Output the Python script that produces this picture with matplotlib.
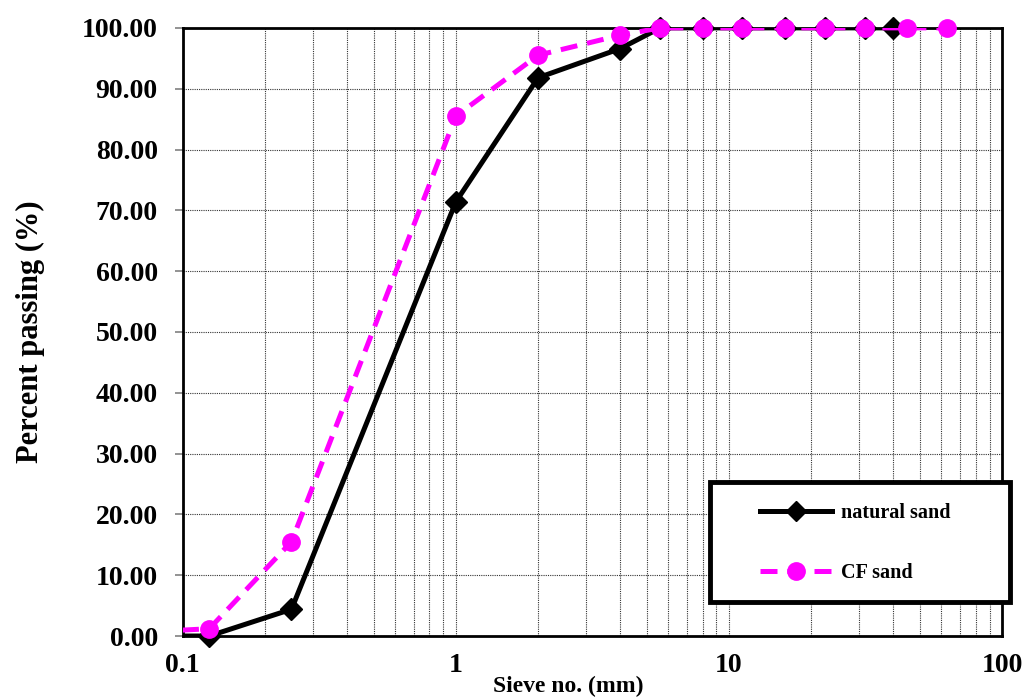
import numpy as np
import matplotlib.pyplot as plt
from matplotlib.patches import Rectangle
from matplotlib.lines import Line2D
from matplotlib.ticker import FormatStrFormatter, NullFormatter

# sieve sizes (mm) and percent passing
natural_sieve = [0.063, 0.125, 0.25, 1, 2, 4, 5.6, 8, 11.2, 16, 22.4, 31.5, 40]
natural_pass = [0.0, 0.0, 4.4, 71.4, 91.8, 96.6, 100, 100, 100, 100, 100, 100, 100]

cf_sieve = [0.063, 0.125, 0.25, 1, 2, 4, 5.6, 8, 11.2, 16, 22.4, 31.5, 45, 63]
cf_pass = [0.5, 1.2, 15.5, 85.5, 95.5, 98.8, 100, 100, 100, 100, 100, 100, 100, 100]

x_ticks = [0.1, 1, 10, 100]
x_tick_labels = ["0.1", "1", "10", "100"]

plt.rcParams["font.family"] = ["Liberation Serif", "DejaVu Serif"]
plt.rcParams["font.weight"] = "bold"

BLACK = "black"
PINK = "#FF00FF"
DASH = (0, (3.4, 2.0))

fig = plt.figure(figsize=(10.27, 6.97), dpi=100)
ax = fig.add_axes([0.178, 0.0875, 0.7977, 0.8725])

# lines clipped to the axes, markers allowed to sit on the top frame
ax.plot(natural_sieve, natural_pass, color=BLACK, lw=3.6, zorder=3)
ax.plot(natural_sieve, natural_pass, ls="none", color=BLACK, marker="D", ms=11,
        markevery=list(range(1, len(natural_sieve))), zorder=3, clip_on=False)
ax.plot(cf_sieve, cf_pass, color=PINK, lw=3.6, ls=DASH, zorder=4)
ax.plot(cf_sieve, cf_pass, ls="none", color=PINK, marker="o", ms=12.5,
        markevery=list(range(1, len(cf_sieve))), zorder=4, clip_on=False)

ax.set_xscale("log")
ax.set_xlim(0.1, 100)
ax.set_ylim(0, 100)

ax.set_yticks(np.arange(0, 101, 10))
ax.yaxis.set_major_formatter(FormatStrFormatter("%.2f"))
ax.set_xticks(x_ticks)
ax.set_xticklabels(x_tick_labels)
ax.xaxis.set_minor_formatter(NullFormatter())

ax.grid(True, which="both", axis="x", color="#333333", ls=(0, (1, 1)), lw=0.8)
ax.grid(True, which="major", axis="y", color="#333333", ls=(0, (1, 1)), lw=0.8)

ax.tick_params(axis="x", which="both", length=0, pad=12, labelsize=20)
ax.tick_params(axis="y", length=6, width=1.2, color="gray", direction="out",
               pad=12, labelsize=20)
for lbl in ax.get_xticklabels() + ax.get_yticklabels():
    lbl.set_fontweight("bold")

for side in ["left", "bottom", "top", "right"]:
    ax.spines[side].set_linewidth(2)

ax.set_xlabel("Sieve no. (mm)", fontsize=17, fontweight="bold")
ax.set_ylabel("Percent passing (%)", fontsize=22, fontweight="bold")
ax.xaxis.set_label_coords(0.47, -0.065)
ax.yaxis.set_label_coords(-0.168, 0.5)

# legend box
box = Rectangle((710 / 1027, 1 - 602 / 697), 300 / 1027, 120 / 697,
                transform=fig.transFigure, facecolor="white",
                edgecolor="black", lw=3.5, zorder=10)
fig.add_artist(box)
handles = [
    Line2D([], [], color=BLACK, lw=3.6, marker="D", ms=10),
    Line2D([], [], color=PINK, lw=3.6, ls=DASH, marker="o", ms=12.5),
]
leg = fig.legend(handles, ["natural sand", "CF sand"], loc="center",
                 bbox_to_anchor=(855 / 1027, 1 - 543 / 697), frameon=False,
                 labelspacing=2.0, handlelength=3.6, handletextpad=0.4,
                 prop={"weight": "bold", "size": 14.5})
leg.set_zorder(11)

fig.savefig("out.png", dpi=100)
